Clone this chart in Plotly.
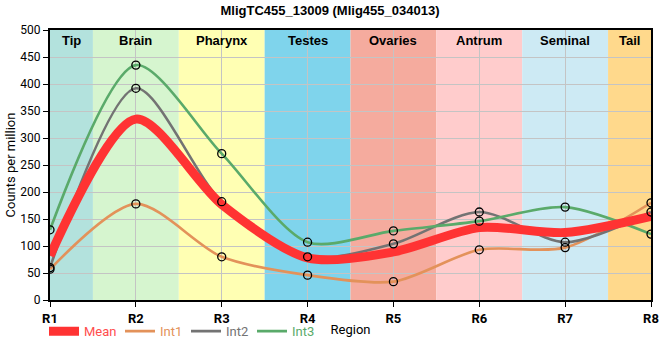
import plotly.graph_objects as go

regions = ["R1", "R2", "R3", "R4", "R5", "R6", "R7", "R8"]
tissues = ["Tip", "Brain", "Pharynx", "Testes", "Ovaries", "Antrum", "Seminal", "Tail"]
tissue_colors = ["#b3e2dd", "#d6f5cf", "#ffffb3", "#7fd4ec", "#f5ab9e", "#ffcccc", "#cdeaf4", "#ffd98c"]

mean_vals = [82, 335, 177, 78, 89, 134, 125, 155]
int1 = [57, 178, 80, 46, 34, 93, 97, 180]
int2 = [60, 392, 182, 80, 104, 163, 107, 163]
int3 = [130, 435, 271, 107, 128, 146, 172, 122]

series = [("Int1", int1, "#e3925a"), ("Int2", int2, "#737373"), ("Int3", int3, "#5aaa6a")]

xi = list(range(len(regions)))
n = len(regions)
SM = 0.8

L, R, T, B, W, H = 50, 9, 30, 60, 660, 360
pw = W - L - R
legend_px = [44, 120, 186, 252]  # left edge of each legend entry, in pixels

fig = go.Figure()

for k, (name, vals, col) in enumerate(series):
    fig.add_trace(go.Scatter(
        x=xi, y=vals, mode="lines", line=dict(color=col, width=2.6, shape="spline", smoothing=SM),
        name=f"<span style='color:{col}'>{name}</span>", legend=f"legend{k + 2}", hoverinfo="skip"))

fig.add_trace(go.Scatter(
    x=xi, y=mean_vals, mode="lines", line=dict(color="#ff3333", width=9, shape="spline", smoothing=SM),
    name="<span style='color:#ff4d4d'>Mean</span>", legend="legend", hoverinfo="skip"))

for name, vals, col in series:
    fig.add_trace(go.Scatter(
        x=xi, y=vals, mode="markers",
        marker=dict(symbol="circle-open", size=8, color="black", line=dict(width=1.3, color="black")),
        showlegend=False, hoverinfo="skip"))

shapes = []
annotations = []
for i, (t, c) in enumerate(zip(tissues, tissue_colors)):
    x0 = max(i - 0.5, 0)
    x1 = min(i + 0.5, n - 1)
    shapes.append(dict(type="rect", xref="x", yref="paper", x0=x0, x1=x1, y0=0, y1=1,
                       fillcolor=c, line=dict(width=0), layer="below"))
    annotations.append(dict(x=(x0 + x1) / 2, y=1, xref="x", yref="paper", yanchor="top", yshift=-1,
                            text=f"<b>{t}</b>", showarrow=False,
                            font=dict(family="Liberation Sans, Arial", size=13, color="black")))

legend_style = dict(orientation="h", xanchor="left", y=-0.06, yanchor="top",
                    font=dict(family="Roboto", size=13), bgcolor="rgba(0,0,0,0)", itemwidth=30)
legends = {}
for j, px in enumerate(legend_px):
    key = "legend" if j == 0 else f"legend{j + 1}"
    legends[key] = dict(legend_style, x=(px - L) / pw)

fig.update_layout(
    width=W, height=H,
    margin=dict(l=L, r=R, t=T, b=B, autoexpand=False),
    paper_bgcolor="white", plot_bgcolor="white",
    title=dict(text="<b>MligTC455_13009 (Mlig455_034013)</b>", x=0.5, xanchor="center",
               y=1 - 10 / 360, yanchor="middle",
               font=dict(family="Liberation Sans, Arial", size=13, color="black")),
    shapes=shapes, annotations=annotations,
    showlegend=True,
    **legends,
    xaxis=dict(tickmode="array", tickvals=xi, ticktext=[f"<b>{r}</b>" for r in regions],
               range=[0, n - 1], showgrid=True, gridcolor="#c4c4c4", gridwidth=1,
               showline=True, linecolor="black", linewidth=2, mirror=True,
               ticks="outside", ticklen=5, tickcolor="black", automargin=False,
               tickfont=dict(family="Roboto", size=13, color="black"),
               title=dict(text="Region", font=dict(family="Roboto", size=13, color="black"), standoff=0),
               zeroline=False),
    yaxis=dict(range=[0, 500], dtick=50, showgrid=True, gridcolor="#c4c4c4", gridwidth=1,
               showline=True, linecolor="black", linewidth=2, mirror=True,
               ticks="outside", ticklen=5, tickcolor="black", automargin=False,
               tickfont=dict(family="Roboto", size=12, color="black"),
               title=dict(text="Counts per million", font=dict(family="Roboto", size=13, color="black"), standoff=2),
               zeroline=False),
)

fig.write_html("out.html", config={"displayModeBar": False},
               post_script="document.body.style.margin='0px';")
